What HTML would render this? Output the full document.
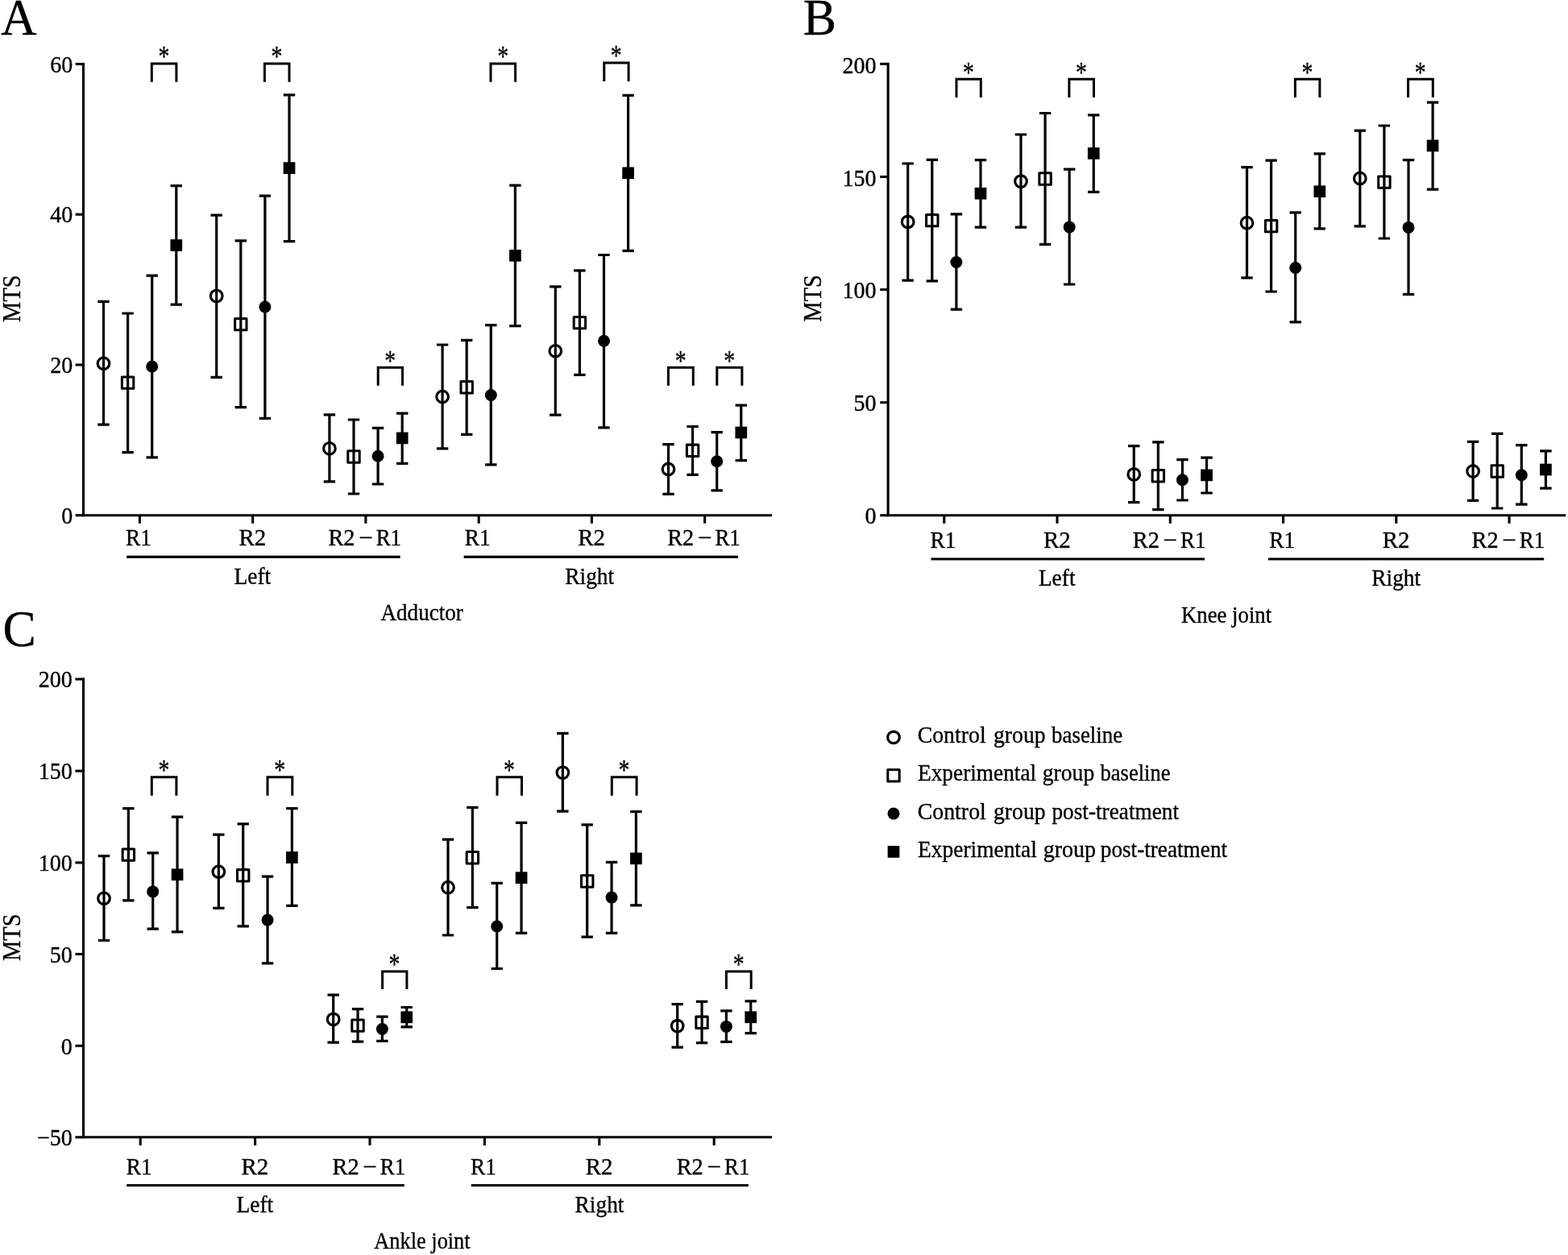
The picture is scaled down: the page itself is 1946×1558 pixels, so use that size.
<!DOCTYPE html>
<html lang="en">
<head>
<meta charset="utf-8">
<title>MTS figure</title>
<style>
html,body{margin:0;padding:0;background:#fff;}
body{width:1946px;height:1558px;overflow:hidden;}
svg{display:block;}
svg text{font-family:"Liberation Serif", serif;fill:#000;stroke:#000;stroke-width:0.35px;stroke-linejoin:round;white-space:pre;}
</style>
</head>
<body>
<svg width="1946" height="1558" viewBox="0 0 1946 1558" stroke="#000" fill="#000" font-size="29">
<rect x="0" y="0" width="1946" height="1558" fill="#fff" stroke="none"/>
<g id="chart-A">
<path d="M103.45 77.95V639.7H958" fill="none" stroke-width="3.1" stroke-linejoin="miter"/>
<line x1="93.65" y1="79.5" x2="103.45" y2="79.5" stroke-width="3.1"/>
<text transform="translate(62.24 89.8) scale(0.967 1)">60</text>
<line x1="93.65" y1="266.2" x2="103.45" y2="266.2" stroke-width="3.1"/>
<text transform="translate(62.24 276.37) scale(0.967 1)">40</text>
<line x1="93.65" y1="452.9" x2="103.45" y2="452.9" stroke-width="3.1"/>
<text transform="translate(62.24 462.93) scale(0.967 1)">20</text>
<line x1="93.65" y1="639.7" x2="103.45" y2="639.7" stroke-width="3.1"/>
<text transform="translate(76.27 649.6) scale(0.967 1)">0</text>
<line x1="173.4" y1="639.7" x2="173.4" y2="649.8" stroke-width="3.1"/>
<line x1="313.65" y1="639.7" x2="313.65" y2="649.8" stroke-width="3.1"/>
<line x1="453.9" y1="639.7" x2="453.9" y2="649.8" stroke-width="3.1"/>
<line x1="594.15" y1="639.7" x2="594.15" y2="649.8" stroke-width="3.1"/>
<line x1="734.4" y1="639.7" x2="734.4" y2="649.8" stroke-width="3.1"/>
<line x1="874.65" y1="639.7" x2="874.65" y2="649.8" stroke-width="3.1"/>
<text transform="translate(156.03 677.3) scale(0.944 1)">R1</text>
<text transform="translate(296.49 677.3) scale(0.9992 1)">R2</text>
<text y="677.3"><tspan x="407.4" textLength="33.11" lengthAdjust="spacingAndGlyphs">R2</tspan> <tspan x="445.16" textLength="17.57" lengthAdjust="spacingAndGlyphs">−</tspan> <tspan x="466.65" textLength="31.41" lengthAdjust="spacingAndGlyphs">R1</tspan></text>
<text transform="translate(576.78 677.3) scale(0.944 1)">R1</text>
<text transform="translate(717.24 677.3) scale(0.9992 1)">R2</text>
<text y="677.3"><tspan x="828.15" textLength="33.11" lengthAdjust="spacingAndGlyphs">R2</tspan> <tspan x="865.91" textLength="17.57" lengthAdjust="spacingAndGlyphs">−</tspan> <tspan x="887.4" textLength="31.41" lengthAdjust="spacingAndGlyphs">R1</tspan></text>
<line x1="157.2" y1="691.4" x2="496.7" y2="691.4" stroke-width="3.2"/>
<line x1="575.6" y1="691.4" x2="916" y2="691.4" stroke-width="3.2"/>
<text transform="translate(290.58 724.8) scale(0.945 1)">Left</text>
<text transform="translate(701.26 724.8) scale(0.945 1)">Right</text>
<text transform="translate(472.51 770) scale(0.9345 1)">Adductor</text>
<text transform="translate(25.05 399.89) rotate(-90) scale(0.897 1)" font-size="31.7">MTS</text>
<text transform="translate(1 43.3) scale(0.98 1)" font-size="63">A</text>
<path d="M121.3 374.4H135.7M128.5 374.4V527.2M121.3 527.2H135.7" fill="none" stroke-width="3.2"/>
<path d="M151.4 389H165.8M158.6 389V561.7M151.4 561.7H165.8" fill="none" stroke-width="3.2"/>
<path d="M181.5 342.2H195.9M188.7 342.2V567.8M181.5 567.8H195.9" fill="none" stroke-width="3.2"/>
<path d="M211.6 230.7H226M218.8 230.7V378.2M211.6 378.2H226" fill="none" stroke-width="3.2"/>
<path d="M261.5 267.2H275.9M268.7 267.2V468.4M261.5 468.4H275.9" fill="none" stroke-width="3.2"/>
<path d="M291.6 298.8H306M298.8 298.8V505.6M291.6 505.6H306" fill="none" stroke-width="3.2"/>
<path d="M321.7 243.1H336.1M328.9 243.1V519.3M321.7 519.3H336.1" fill="none" stroke-width="3.2"/>
<path d="M351.8 117.9H366.2M359 117.9V299.6M351.8 299.6H366.2" fill="none" stroke-width="3.2"/>
<path d="M401.7 514.9H416.1M408.9 514.9V597.9M401.7 597.9H416.1" fill="none" stroke-width="3.2"/>
<path d="M431.8 521H446.2M439 521V613M431.8 613H446.2" fill="none" stroke-width="3.2"/>
<path d="M461.9 531.3H476.3M469.1 531.3V601M461.9 601H476.3" fill="none" stroke-width="3.2"/>
<path d="M492 513.1H506.4M499.2 513.1V575.3M492 575.3H506.4" fill="none" stroke-width="3.2"/>
<path d="M541.9 428H556.3M549.1 428V556.8M541.9 556.8H556.3" fill="none" stroke-width="3.2"/>
<path d="M572 422.4H586.4M579.2 422.4V539.3M572 539.3H586.4" fill="none" stroke-width="3.2"/>
<path d="M602.1 403.6H616.5M609.3 403.6V576.8M602.1 576.8H616.5" fill="none" stroke-width="3.2"/>
<path d="M632.2 230.2H646.6M639.4 230.2V404.7M632.2 404.7H646.6" fill="none" stroke-width="3.2"/>
<path d="M682.1 355.9H696.5M689.3 355.9V515.1M682.1 515.1H696.5" fill="none" stroke-width="3.2"/>
<path d="M712.2 335.8H726.6M719.4 335.8V465.3M712.2 465.3H726.6" fill="none" stroke-width="3.2"/>
<path d="M742.3 316.5H756.7M749.5 316.5V530.8M742.3 530.8H756.7" fill="none" stroke-width="3.2"/>
<path d="M772.4 118.4H786.8M779.6 118.4V311.4M772.4 311.4H786.8" fill="none" stroke-width="3.2"/>
<path d="M822.3 551.6H836.7M829.5 551.6V613.3M822.3 613.3H836.7" fill="none" stroke-width="3.2"/>
<path d="M852.4 529.5H866.8M859.6 529.5V589.4M852.4 589.4H866.8" fill="none" stroke-width="3.2"/>
<path d="M882.5 536.7H896.9M889.7 536.7V608.9M882.5 608.9H896.9" fill="none" stroke-width="3.2"/>
<path d="M912.6 503.1H927M919.8 503.1V571.7M912.6 571.7H927" fill="none" stroke-width="3.2"/>
<circle cx="128.5" cy="451.2" r="7.3" fill="none" stroke-width="3.2"/>
<rect x="151.4" y="467.9" width="14.4" height="14.4" fill="none" stroke-width="3.05" stroke-linejoin="round"/>
<circle cx="188.7" cy="455" r="7.5" stroke="none"/>
<rect x="211.45" y="297.15" width="14.7" height="14.7" stroke="none"/>
<circle cx="268.7" cy="367.4" r="7.3" fill="none" stroke-width="3.2"/>
<rect x="291.6" y="395.4" width="14.4" height="14.4" fill="none" stroke-width="3.05" stroke-linejoin="round"/>
<circle cx="328.9" cy="381" r="7.5" stroke="none"/>
<rect x="351.65" y="201.25" width="14.7" height="14.7" stroke="none"/>
<circle cx="408.9" cy="556.8" r="7.3" fill="none" stroke-width="3.2"/>
<rect x="431.8" y="559.8" width="14.4" height="14.4" fill="none" stroke-width="3.05" stroke-linejoin="round"/>
<circle cx="469.1" cy="566.3" r="7.5" stroke="none"/>
<rect x="491.85" y="536.55" width="14.7" height="14.7" stroke="none"/>
<circle cx="549.1" cy="492.5" r="7.3" fill="none" stroke-width="3.2"/>
<rect x="572" y="473.5" width="14.4" height="14.4" fill="none" stroke-width="3.05" stroke-linejoin="round"/>
<circle cx="609.3" cy="490.5" r="7.5" stroke="none"/>
<rect x="632.05" y="309.95" width="14.7" height="14.7" stroke="none"/>
<circle cx="689.3" cy="435.8" r="7.3" fill="none" stroke-width="3.2"/>
<rect x="712.2" y="393.4" width="14.4" height="14.4" fill="none" stroke-width="3.05" stroke-linejoin="round"/>
<circle cx="749.5" cy="423.2" r="7.5" stroke="none"/>
<rect x="772.25" y="207.45" width="14.7" height="14.7" stroke="none"/>
<circle cx="829.5" cy="582.5" r="7.3" fill="none" stroke-width="3.2"/>
<rect x="852.4" y="552.1" width="14.4" height="14.4" fill="none" stroke-width="3.05" stroke-linejoin="round"/>
<circle cx="889.7" cy="572.7" r="7.5" stroke="none"/>
<rect x="912.45" y="529.65" width="14.7" height="14.7" stroke="none"/>
<path d="M188.3 101.8V78.9H218.9V101.8" fill="none" stroke-width="3" stroke-linejoin="miter"/>
<text transform="translate(196.44 82.2) scale(0.776 1)" font-size="35.8">*</text>
<path d="M328.4 101.8V78.9H359V101.8" fill="none" stroke-width="3" stroke-linejoin="miter"/>
<text transform="translate(336.54 82.2) scale(0.776 1)" font-size="35.8">*</text>
<path d="M469.2 478.8V456.3H499.5V478.8" fill="none" stroke-width="3" stroke-linejoin="miter"/>
<text transform="translate(477.19 459.6) scale(0.776 1)" font-size="35.8">*</text>
<path d="M609 101.8V78.9H639.6V101.8" fill="none" stroke-width="3" stroke-linejoin="miter"/>
<text transform="translate(617.14 82.2) scale(0.776 1)" font-size="35.8">*</text>
<path d="M749.8 100.9V78H780.1V100.9" fill="none" stroke-width="3" stroke-linejoin="miter"/>
<text transform="translate(757.79 81.3) scale(0.776 1)" font-size="35.8">*</text>
<path d="M829.4 478.8V456.3H860.3V478.8" fill="none" stroke-width="3" stroke-linejoin="miter"/>
<text transform="translate(837.69 459.6) scale(0.776 1)" font-size="35.8">*</text>
<path d="M889.8 478.8V456.3H920.9V478.8" fill="none" stroke-width="3" stroke-linejoin="miter"/>
<text transform="translate(898.19 459.6) scale(0.776 1)" font-size="35.8">*</text>
</g>
<g id="chart-B">
<path d="M1102.15 77.85V639.75H1943.2" fill="none" stroke-width="3.1" stroke-linejoin="miter"/>
<line x1="1092.25" y1="79.4" x2="1102.15" y2="79.4" stroke-width="3.1"/>
<text transform="translate(1045.52 90.8) scale(0.967 1)">200</text>
<line x1="1092.25" y1="219.5" x2="1102.15" y2="219.5" stroke-width="3.1"/>
<text transform="translate(1045.52 230.64) scale(0.967 1)">150</text>
<line x1="1092.25" y1="359.55" x2="1102.15" y2="359.55" stroke-width="3.1"/>
<text transform="translate(1045.52 370.43) scale(0.967 1)">100</text>
<line x1="1092.25" y1="499.65" x2="1102.15" y2="499.65" stroke-width="3.1"/>
<text transform="translate(1059.54 510.26) scale(0.967 1)">50</text>
<line x1="1092.25" y1="639.75" x2="1102.15" y2="639.75" stroke-width="3.1"/>
<text transform="translate(1073.57 650.1) scale(0.967 1)">0</text>
<line x1="1171.8" y1="639.75" x2="1171.8" y2="649.85" stroke-width="3.1"/>
<line x1="1312.05" y1="639.75" x2="1312.05" y2="649.85" stroke-width="3.1"/>
<line x1="1452.3" y1="639.75" x2="1452.3" y2="649.85" stroke-width="3.1"/>
<line x1="1592.55" y1="639.75" x2="1592.55" y2="649.85" stroke-width="3.1"/>
<line x1="1732.8" y1="639.75" x2="1732.8" y2="649.85" stroke-width="3.1"/>
<line x1="1873.05" y1="639.75" x2="1873.05" y2="649.85" stroke-width="3.1"/>
<text transform="translate(1154.43 680.1) scale(0.944 1)">R1</text>
<text transform="translate(1294.89 680.1) scale(0.9992 1)">R2</text>
<text y="680.1"><tspan x="1405.8" textLength="33.11" lengthAdjust="spacingAndGlyphs">R2</tspan> <tspan x="1443.56" textLength="17.57" lengthAdjust="spacingAndGlyphs">−</tspan> <tspan x="1465.05" textLength="31.41" lengthAdjust="spacingAndGlyphs">R1</tspan></text>
<text transform="translate(1575.18 680.1) scale(0.944 1)">R1</text>
<text transform="translate(1715.64 680.1) scale(0.9992 1)">R2</text>
<text y="680.1"><tspan x="1826.55" textLength="33.11" lengthAdjust="spacingAndGlyphs">R2</tspan> <tspan x="1864.31" textLength="17.57" lengthAdjust="spacingAndGlyphs">−</tspan> <tspan x="1885.8" textLength="31.41" lengthAdjust="spacingAndGlyphs">R1</tspan></text>
<line x1="1155.5" y1="694" x2="1495" y2="694" stroke-width="3.2"/>
<line x1="1574" y1="694" x2="1916.2" y2="694" stroke-width="3.2"/>
<text transform="translate(1288.88 726.9) scale(0.945 1)">Left</text>
<text transform="translate(1702.26 726.9) scale(0.945 1)">Right</text>
<text transform="translate(1465.95 772.5) scale(0.9227 1)">Knee joint</text>
<text transform="translate(1018.6 399.59) rotate(-90) scale(0.897 1)" font-size="31.7">MTS</text>
<text transform="translate(996.7 43.3) scale(0.98 1)" font-size="63">B</text>
<path d="M1119.5 203H1133.9M1126.7 203V348.2M1119.5 348.2H1133.9" fill="none" stroke-width="3.2"/>
<path d="M1149.6 198.4H1164M1156.8 198.4V348.9M1149.6 348.9H1164" fill="none" stroke-width="3.2"/>
<path d="M1179.7 265.9H1194.1M1186.9 265.9V384.1M1179.7 384.1H1194.1" fill="none" stroke-width="3.2"/>
<path d="M1209.8 198.6H1224.2M1217 198.6V282.1M1209.8 282.1H1224.2" fill="none" stroke-width="3.2"/>
<path d="M1259.78 167H1274.18M1266.98 167V282.1M1259.78 282.1H1274.18" fill="none" stroke-width="3.2"/>
<path d="M1289.88 140.5H1304.28M1297.08 140.5V303.4M1289.88 303.4H1304.28" fill="none" stroke-width="3.2"/>
<path d="M1319.98 210.2H1334.38M1327.18 210.2V353M1319.98 353H1334.38" fill="none" stroke-width="3.2"/>
<path d="M1350.08 142.9H1364.48M1357.28 142.9V238.4M1350.08 238.4H1364.48" fill="none" stroke-width="3.2"/>
<path d="M1400.06 553.7H1414.46M1407.26 553.7V623.6M1400.06 623.6H1414.46" fill="none" stroke-width="3.2"/>
<path d="M1430.16 548.8H1444.56M1437.36 548.8V632.6M1430.16 632.6H1444.56" fill="none" stroke-width="3.2"/>
<path d="M1460.26 570.7H1474.66M1467.46 570.7V621M1460.26 621H1474.66" fill="none" stroke-width="3.2"/>
<path d="M1490.36 568.1H1504.76M1497.56 568.1V612M1490.36 612H1504.76" fill="none" stroke-width="3.2"/>
<path d="M1540.34 207.6H1554.74M1547.54 207.6V344.8M1540.34 344.8H1554.74" fill="none" stroke-width="3.2"/>
<path d="M1570.44 199.1H1584.84M1577.64 199.1V362M1570.44 362H1584.84" fill="none" stroke-width="3.2"/>
<path d="M1600.54 263.9H1614.94M1607.74 263.9V399.8M1600.54 399.8H1614.94" fill="none" stroke-width="3.2"/>
<path d="M1630.64 190.9H1645.04M1637.84 190.9V283.9M1630.64 283.9H1645.04" fill="none" stroke-width="3.2"/>
<path d="M1680.62 162.1H1695.02M1687.82 162.1V280.8M1680.62 280.8H1695.02" fill="none" stroke-width="3.2"/>
<path d="M1710.72 156H1725.12M1717.92 156V296M1710.72 296H1725.12" fill="none" stroke-width="3.2"/>
<path d="M1740.82 198.6H1755.22M1748.02 198.6V365.4M1740.82 365.4H1755.22" fill="none" stroke-width="3.2"/>
<path d="M1770.92 127.2H1785.32M1778.12 127.2V235.1M1770.92 235.1H1785.32" fill="none" stroke-width="3.2"/>
<path d="M1820.9 548.3H1835.3M1828.1 548.3V621.3M1820.9 621.3H1835.3" fill="none" stroke-width="3.2"/>
<path d="M1851 538.3H1865.4M1858.2 538.3V631M1851 631H1865.4" fill="none" stroke-width="3.2"/>
<path d="M1881.1 552.7H1895.5M1888.3 552.7V626.1M1881.1 626.1H1895.5" fill="none" stroke-width="3.2"/>
<path d="M1911.2 559.9H1925.6M1918.4 559.9V606.1M1911.2 606.1H1925.6" fill="none" stroke-width="3.2"/>
<circle cx="1126.7" cy="275.4" r="7.3" fill="none" stroke-width="3.2"/>
<rect x="1149.6" y="266.4" width="14.4" height="14.4" fill="none" stroke-width="3.05" stroke-linejoin="round"/>
<circle cx="1186.9" cy="325.5" r="7.5" stroke="none"/>
<rect x="1209.65" y="232.85" width="14.7" height="14.7" stroke="none"/>
<circle cx="1266.98" cy="225.1" r="7.3" fill="none" stroke-width="3.2"/>
<rect x="1289.88" y="214.8" width="14.4" height="14.4" fill="none" stroke-width="3.05" stroke-linejoin="round"/>
<circle cx="1327.18" cy="281.9" r="7.5" stroke="none"/>
<rect x="1349.93" y="183.05" width="14.7" height="14.7" stroke="none"/>
<circle cx="1407.26" cy="588.9" r="7.3" fill="none" stroke-width="3.2"/>
<rect x="1430.16" y="583.5" width="14.4" height="14.4" fill="none" stroke-width="3.05" stroke-linejoin="round"/>
<circle cx="1467.46" cy="595.8" r="7.5" stroke="none"/>
<rect x="1490.21" y="582.55" width="14.7" height="14.7" stroke="none"/>
<circle cx="1547.54" cy="276.7" r="7.3" fill="none" stroke-width="3.2"/>
<rect x="1570.44" y="273.4" width="14.4" height="14.4" fill="none" stroke-width="3.05" stroke-linejoin="round"/>
<circle cx="1607.74" cy="332.5" r="7.5" stroke="none"/>
<rect x="1630.49" y="230.35" width="14.7" height="14.7" stroke="none"/>
<circle cx="1687.82" cy="221.5" r="7.3" fill="none" stroke-width="3.2"/>
<rect x="1710.72" y="218.9" width="14.4" height="14.4" fill="none" stroke-width="3.05" stroke-linejoin="round"/>
<circle cx="1748.02" cy="282.4" r="7.5" stroke="none"/>
<rect x="1770.77" y="173.55" width="14.7" height="14.7" stroke="none"/>
<circle cx="1828.1" cy="585" r="7.3" fill="none" stroke-width="3.2"/>
<rect x="1851" y="577.8" width="14.4" height="14.4" fill="none" stroke-width="3.05" stroke-linejoin="round"/>
<circle cx="1888.3" cy="589.7" r="7.5" stroke="none"/>
<rect x="1911.05" y="575.65" width="14.7" height="14.7" stroke="none"/>
<path d="M1187 121.1V98.35H1217.3V121.1" fill="none" stroke-width="3" stroke-linejoin="miter"/>
<text transform="translate(1194.99 101.65) scale(0.776 1)" font-size="35.8">*</text>
<path d="M1326.9 121.1V98.35H1357.5V121.1" fill="none" stroke-width="3" stroke-linejoin="miter"/>
<text transform="translate(1335.04 101.65) scale(0.776 1)" font-size="35.8">*</text>
<path d="M1607.4 121.1V98.35H1637.9V121.1" fill="none" stroke-width="3" stroke-linejoin="miter"/>
<text transform="translate(1615.49 101.65) scale(0.776 1)" font-size="35.8">*</text>
<path d="M1747.6 121.1V98.35H1778.3V121.1" fill="none" stroke-width="3" stroke-linejoin="miter"/>
<text transform="translate(1755.79 101.65) scale(0.776 1)" font-size="35.8">*</text>
</g>
<g id="chart-C">
<path d="M103.5 841.55V1411.8H958" fill="none" stroke-width="3.1" stroke-linejoin="miter"/>
<line x1="93.4" y1="843.1" x2="103.5" y2="843.1" stroke-width="3.1"/>
<text transform="translate(47.82 853) scale(0.967 1)">200</text>
<line x1="93.4" y1="957.1" x2="103.5" y2="957.1" stroke-width="3.1"/>
<text transform="translate(47.82 967.08) scale(0.967 1)">150</text>
<line x1="93.4" y1="1070.9" x2="103.5" y2="1070.9" stroke-width="3.1"/>
<text transform="translate(47.82 1080.96) scale(0.967 1)">100</text>
<line x1="93.4" y1="1184.5" x2="103.5" y2="1184.5" stroke-width="3.1"/>
<text transform="translate(61.84 1194.64) scale(0.967 1)">50</text>
<line x1="93.4" y1="1298.3" x2="103.5" y2="1298.3" stroke-width="3.1"/>
<text transform="translate(75.87 1308.52) scale(0.967 1)">0</text>
<line x1="93.4" y1="1411.8" x2="103.5" y2="1411.8" stroke-width="3.1"/>
<text transform="translate(46.01 1422.1) scale(0.967 1)">−50</text>
<line x1="174.2" y1="1411.8" x2="174.2" y2="1421.9" stroke-width="3.1"/>
<line x1="316.6" y1="1411.8" x2="316.6" y2="1421.9" stroke-width="3.1"/>
<line x1="459" y1="1411.8" x2="459" y2="1421.9" stroke-width="3.1"/>
<line x1="601.4" y1="1411.8" x2="601.4" y2="1421.9" stroke-width="3.1"/>
<line x1="743.8" y1="1411.8" x2="743.8" y2="1421.9" stroke-width="3.1"/>
<line x1="886.2" y1="1411.8" x2="886.2" y2="1421.9" stroke-width="3.1"/>
<text transform="translate(156.83 1457.7) scale(0.944 1)">R1</text>
<text transform="translate(299.44 1457.7) scale(0.9992 1)">R2</text>
<text y="1457.7"><tspan x="412.5" textLength="33.11" lengthAdjust="spacingAndGlyphs">R2</tspan> <tspan x="450.26" textLength="17.57" lengthAdjust="spacingAndGlyphs">−</tspan> <tspan x="471.75" textLength="31.41" lengthAdjust="spacingAndGlyphs">R1</tspan></text>
<text transform="translate(584.03 1457.7) scale(0.944 1)">R1</text>
<text transform="translate(726.64 1457.7) scale(0.9992 1)">R2</text>
<text y="1457.7"><tspan x="839.7" textLength="33.11" lengthAdjust="spacingAndGlyphs">R2</tspan> <tspan x="877.46" textLength="17.57" lengthAdjust="spacingAndGlyphs">−</tspan> <tspan x="898.95" textLength="31.41" lengthAdjust="spacingAndGlyphs">R1</tspan></text>
<line x1="157.2" y1="1471.5" x2="501.8" y2="1471.5" stroke-width="3.2"/>
<line x1="584.8" y1="1471.5" x2="928.9" y2="1471.5" stroke-width="3.2"/>
<text transform="translate(293.58 1504.9) scale(0.945 1)">Left</text>
<text transform="translate(713.56 1504.9) scale(0.945 1)">Right</text>
<text transform="translate(464.32 1549.8) scale(0.9089 1)">Ankle joint</text>
<text transform="translate(24.75 1192.99) rotate(-90) scale(0.897 1)" font-size="31.7">MTS</text>
<text transform="translate(3.6 801.7) scale(0.98 1)" font-size="63">C</text>
<path d="M121.8 1062.7H136.2M129 1062.7V1167.5M121.8 1167.5H136.2" fill="none" stroke-width="3.2"/>
<path d="M152.15 1003.6H166.55M159.35 1003.6V1117.9M152.15 1117.9H166.55" fill="none" stroke-width="3.2"/>
<path d="M182.5 1058.8H196.9M189.7 1058.8V1153.1M182.5 1153.1H196.9" fill="none" stroke-width="3.2"/>
<path d="M212.85 1014.1H227.25M220.05 1014.1V1156.8M212.85 1156.8H227.25" fill="none" stroke-width="3.2"/>
<path d="M264.14 1036.2H278.54M271.34 1036.2V1127.4M264.14 1127.4H278.54" fill="none" stroke-width="3.2"/>
<path d="M294.49 1022.8H308.89M301.69 1022.8V1149.8M294.49 1149.8H308.89" fill="none" stroke-width="3.2"/>
<path d="M324.84 1088.1H339.24M332.04 1088.1V1195.8M324.84 1195.8H339.24" fill="none" stroke-width="3.2"/>
<path d="M355.19 1003.6H369.59M362.39 1003.6V1124.3M355.19 1124.3H369.59" fill="none" stroke-width="3.2"/>
<path d="M406.48 1235.1H420.88M413.68 1235.1V1294.2M406.48 1294.2H420.88" fill="none" stroke-width="3.2"/>
<path d="M436.83 1252.6H451.23M444.03 1252.6V1293.1M436.83 1293.1H451.23" fill="none" stroke-width="3.2"/>
<path d="M467.18 1262.1H481.58M474.38 1262.1V1292.4M467.18 1292.4H481.58" fill="none" stroke-width="3.2"/>
<path d="M497.53 1250.5H511.93M504.73 1250.5V1274.9M497.53 1274.9H511.93" fill="none" stroke-width="3.2"/>
<path d="M548.82 1042.1H563.22M556.02 1042.1V1161M548.82 1161H563.22" fill="none" stroke-width="3.2"/>
<path d="M579.17 1002.3H593.57M586.37 1002.3V1126.7M579.17 1126.7H593.57" fill="none" stroke-width="3.2"/>
<path d="M609.52 1096.3H623.92M616.72 1096.3V1202.5M609.52 1202.5H623.92" fill="none" stroke-width="3.2"/>
<path d="M639.87 1021.3H654.27M647.07 1021.3V1158.3M639.87 1158.3H654.27" fill="none" stroke-width="3.2"/>
<path d="M691.16 910.3H705.56M698.36 910.3V1007.2M691.16 1007.2H705.56" fill="none" stroke-width="3.2"/>
<path d="M721.51 1023.9H735.91M728.71 1023.9V1163.1M721.51 1163.1H735.91" fill="none" stroke-width="3.2"/>
<path d="M751.86 1070.4H766.26M759.06 1070.4V1158.3M751.86 1158.3H766.26" fill="none" stroke-width="3.2"/>
<path d="M782.21 1007.7H796.61M789.41 1007.7V1123.8M782.21 1123.8H796.61" fill="none" stroke-width="3.2"/>
<path d="M833.5 1246.6H847.9M840.7 1246.6V1300.1M833.5 1300.1H847.9" fill="none" stroke-width="3.2"/>
<path d="M863.85 1243.3H878.25M871.05 1243.3V1294.7M863.85 1294.7H878.25" fill="none" stroke-width="3.2"/>
<path d="M894.2 1254.9H908.6M901.4 1254.9V1293.4M894.2 1293.4H908.6" fill="none" stroke-width="3.2"/>
<path d="M924.55 1242.8H938.95M931.75 1242.8V1282.6M924.55 1282.6H938.95" fill="none" stroke-width="3.2"/>
<circle cx="129" cy="1115.3" r="7.3" fill="none" stroke-width="3.2"/>
<rect x="152.15" y="1053.9" width="14.4" height="14.4" fill="none" stroke-width="3.05" stroke-linejoin="round"/>
<circle cx="189.7" cy="1106.9" r="7.5" stroke="none"/>
<rect x="212.7" y="1078.45" width="14.7" height="14.7" stroke="none"/>
<circle cx="271.34" cy="1082.2" r="7.3" fill="none" stroke-width="3.2"/>
<rect x="294.49" y="1079.6" width="14.4" height="14.4" fill="none" stroke-width="3.05" stroke-linejoin="round"/>
<circle cx="332.04" cy="1142.1" r="7.5" stroke="none"/>
<rect x="355.04" y="1057.15" width="14.7" height="14.7" stroke="none"/>
<circle cx="413.68" cy="1265.4" r="7.3" fill="none" stroke-width="3.2"/>
<rect x="436.83" y="1265.9" width="14.4" height="14.4" fill="none" stroke-width="3.05" stroke-linejoin="round"/>
<circle cx="474.38" cy="1277.5" r="7.5" stroke="none"/>
<rect x="497.38" y="1255.45" width="14.7" height="14.7" stroke="none"/>
<circle cx="556.02" cy="1101.7" r="7.3" fill="none" stroke-width="3.2"/>
<rect x="579.17" y="1057.5" width="14.4" height="14.4" fill="none" stroke-width="3.05" stroke-linejoin="round"/>
<circle cx="616.72" cy="1150" r="7.5" stroke="none"/>
<rect x="639.72" y="1082.35" width="14.7" height="14.7" stroke="none"/>
<circle cx="698.36" cy="959.1" r="7.3" fill="none" stroke-width="3.2"/>
<rect x="721.51" y="1086.8" width="14.4" height="14.4" fill="none" stroke-width="3.05" stroke-linejoin="round"/>
<circle cx="759.06" cy="1114.1" r="7.5" stroke="none"/>
<rect x="782.06" y="1058.45" width="14.7" height="14.7" stroke="none"/>
<circle cx="840.7" cy="1273.6" r="7.3" fill="none" stroke-width="3.2"/>
<rect x="863.85" y="1262.1" width="14.4" height="14.4" fill="none" stroke-width="3.05" stroke-linejoin="round"/>
<circle cx="901.4" cy="1274.4" r="7.5" stroke="none"/>
<rect x="924.4" y="1255.45" width="14.7" height="14.7" stroke="none"/>
<path d="M188.3 987.7V964.8H218.9V987.7" fill="none" stroke-width="3" stroke-linejoin="miter"/>
<text transform="translate(196.44 968.1) scale(0.776 1)" font-size="35.8">*</text>
<path d="M332 987.7V964.8H362.8V987.7" fill="none" stroke-width="3" stroke-linejoin="miter"/>
<text transform="translate(340.24 968.1) scale(0.776 1)" font-size="35.8">*</text>
<path d="M474.6 1227.9V1206H504.9V1227.9" fill="none" stroke-width="3" stroke-linejoin="miter"/>
<text transform="translate(482.59 1209.3) scale(0.776 1)" font-size="35.8">*</text>
<path d="M617 987.7V964.8H647.5V987.7" fill="none" stroke-width="3" stroke-linejoin="miter"/>
<text transform="translate(625.09 968.1) scale(0.776 1)" font-size="35.8">*</text>
<path d="M759.3 987.7V964.8H790.1V987.7" fill="none" stroke-width="3" stroke-linejoin="miter"/>
<text transform="translate(767.54 968.1) scale(0.776 1)" font-size="35.8">*</text>
<path d="M901.4 1227.9V1206H932.2V1227.9" fill="none" stroke-width="3" stroke-linejoin="miter"/>
<text transform="translate(909.64 1209.3) scale(0.776 1)" font-size="35.8">*</text>
</g>
<g id="legend">
<circle cx="1109" cy="915.4" r="7.3" fill="none" stroke-width="3.2"/>
<text y="922.1"><tspan x="1138.66" textLength="84.97" lengthAdjust="spacingAndGlyphs">Control</tspan> <tspan x="1233.01" textLength="64.64" lengthAdjust="spacingAndGlyphs">group</tspan> <tspan x="1305.1" textLength="88.04" lengthAdjust="spacingAndGlyphs">baseline</tspan></text>
<rect x="1101.8" y="955.5" width="14.4" height="14.4" fill="none" stroke-width="3.05" stroke-linejoin="round"/>
<text y="968.9"><tspan x="1139.04" textLength="147.07" lengthAdjust="spacingAndGlyphs">Experimental</tspan> <tspan x="1293.81" textLength="64.43" lengthAdjust="spacingAndGlyphs">group</tspan> <tspan x="1365.5" textLength="87.03" lengthAdjust="spacingAndGlyphs">baseline</tspan></text>
<circle cx="1109" cy="1010.05" r="7.5" stroke="none"/>
<text y="1016.7"><tspan x="1138.66" textLength="85.17" lengthAdjust="spacingAndGlyphs">Control</tspan> <tspan x="1233.01" textLength="64.64" lengthAdjust="spacingAndGlyphs">group</tspan> <tspan x="1305.39" textLength="157.69" lengthAdjust="spacingAndGlyphs">post-treatment</tspan></text>
<rect x="1101.65" y="1050.05" width="14.7" height="14.7" stroke="none"/>
<text y="1063.7"><tspan x="1139.03" textLength="147.77" lengthAdjust="spacingAndGlyphs">Experimental</tspan> <tspan x="1294.69" textLength="65.47" lengthAdjust="spacingAndGlyphs">group</tspan> <tspan x="1365.79" textLength="157.29" lengthAdjust="spacingAndGlyphs">post-treatment</tspan></text>
</g>
</svg>
</body>
</html>
